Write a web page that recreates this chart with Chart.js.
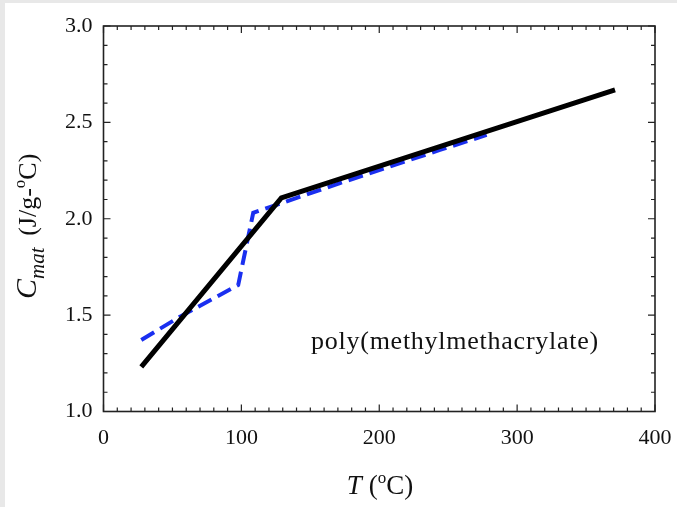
<!DOCTYPE html>
<html>
<head>
<meta charset="utf-8">
<script src="https://cdn.jsdelivr.net/npm/chart.js@4.4.0/dist/chart.umd.min.js"></script>
<style>
  html, body { margin: 0; padding: 0; background: #fff; }
  #wrap { position: relative; width: 677px; height: 507px; background: #fff; }
  #edgeTop { position: absolute; left: 0; top: 0; width: 677px; height: 3px; background: #e8e8e8; }
  #edgeLeft { position: absolute; left: 0; top: 0; width: 5px; height: 507px; background: #e8e8e8; }
</style>
</head>
<body>
<div id="wrap">
  <canvas id="cpChart" width="677" height="507"></canvas>
  <div id="edgeTop"></div>
  <div id="edgeLeft"></div>
</div>
<script>
// heat capacity of PMMA vs temperature
const fitT = [27.4, 129, 371];
const fitC = [1.232, 2.108, 2.668];
const measT = [27.4, 55.5, 97.7, 108.6, 171.5, 244, 277.9];
const measC = [1.371, 1.492, 1.656, 2.031, 2.185, 2.357, 2.435];
const xTicks = [0, 100, 200, 300, 400];
const yTicks = [1.0, 1.5, 2.0, 2.5, 3.0];
const materialLabel = 'poly(methylmethacrylate)';

const SERIF = '"Liberation Serif", "Times New Roman", serif';

function toPoints(xs, ys) {
  return xs.map((x, i) => ({ x: x, y: ys[i] }));
}

// inward ticks on all four sides + box
const frameTicks = {
  id: 'frameTicks',
  afterDraw(chart) {
    const { ctx, chartArea: a, scales: { x, y } } = chart;
    ctx.save();
    ctx.strokeStyle = '#222';
    ctx.lineWidth = 1.6;
    ctx.strokeRect(a.left, a.top, a.right - a.left, a.bottom - a.top);
    ctx.lineWidth = 1.2;
    ctx.beginPath();
    for (let v = 0; v <= 400; v += 10) {
      const px = x.getPixelForValue(v);
      const len = v % 100 === 0 ? 7 : 4;
      ctx.moveTo(px, a.bottom); ctx.lineTo(px, a.bottom - len);
      ctx.moveTo(px, a.top); ctx.lineTo(px, a.top + len);
    }
    for (let i = 0; i <= 20; i++) {
      const v = 1 + i * 0.1;
      const py = y.getPixelForValue(v);
      const len = i % 5 === 0 ? 7 : 4;
      ctx.moveTo(a.left, py); ctx.lineTo(a.left + len, py);
      ctx.moveTo(a.right, py); ctx.lineTo(a.right - len, py);
    }
    ctx.stroke();
    ctx.restore();
  }
};

// draws a list of text runs: [text, font, baseline shift]
function drawRuns(ctx, runs, x, y) {
  let cx = x;
  runs.forEach(r => {
    ctx.font = r[1];
    ctx.fillText(r[0], cx, y + r[2]);
    cx += ctx.measureText(r[0]).width;
  });
  return cx - x;
}

function runsWidth(ctx, runs) {
  let w = 0;
  runs.forEach(r => { ctx.font = r[1]; w += ctx.measureText(r[0]).width; });
  return w;
}

const titles = {
  id: 'titles',
  afterDraw(chart) {
    const { ctx, scales: { x, y } } = chart;
    ctx.save();
    ctx.fillStyle = '#111';
    ctx.textBaseline = 'alphabetic';
    ctx.textAlign = 'left';

    // x title
    const xRuns = [
      ['T', 'italic 27px ' + SERIF, 0],
      [' (', '27px ' + SERIF, 0],
      ['o', '17px ' + SERIF, -11],
      ['C)', '27px ' + SERIF, 0]
    ];
    const xw = runsWidth(ctx, xRuns);
    drawRuns(ctx, xRuns, 380 - xw / 2, 494);

    // y title, rotated
    const yRuns = [
      ['C', 'italic 30px ' + SERIF, 0],
      ['mat', 'italic 21px ' + SERIF, 8],
      ['\u2009 (J/g-', '26px ' + SERIF, 0],
      ['o', '17px ' + SERIF, -11],
      ['C)', '26px ' + SERIF, 0]
    ];
    ctx.translate(36, 299);
    ctx.rotate(-Math.PI / 2);
    drawRuns(ctx, yRuns, 0, 0);
    ctx.setTransform(1, 0, 0, 1, 0, 0);

    // material label inside the plot
    ctx.font = '26px ' + SERIF;
    ctx.letterSpacing = '0.75px';
    ctx.fillText(materialLabel, x.getPixelForValue(150.5), y.getPixelForValue(1.322));
    ctx.restore();
  }
};

new Chart(document.getElementById('cpChart'), {
  type: 'scatter',
  data: {
    datasets: [
      {
        label: 'fit',
        data: toPoints(fitT, fitC),
        showLine: true,
        borderColor: '#000',
        borderWidth: 5,
        pointRadius: 0,
        tension: 0
      },
      {
        label: 'measured',
        data: toPoints(measT, measC),
        showLine: true,
        borderColor: '#1a2ff0',
        borderWidth: 4,
        borderDash: [15, 7],
        pointRadius: 0,
        tension: 0
      }
    ]
  },
  options: {
    responsive: false,
    animation: false,
    layout: { padding: { left: 0, right: 22, top: 26, bottom: 0 } },
    plugins: {
      legend: { display: false },
      tooltip: { enabled: false }
    },
    scales: {
      x: {
        type: 'linear',
        min: 0,
        max: 400,
        afterFit: s => { s.height = 95.5; s.paddingLeft = 0; s.paddingRight = 0; },
        afterBuildTicks: s => { s.ticks = xTicks.map(v => ({ value: v })); },
        grid: { display: false, drawTicks: false },
        border: { display: false },
        ticks: {
          color: '#111',
          padding: 14,
          maxRotation: 0,
          font: { family: SERIF, size: 22 }
        }
      },
      y: {
        type: 'linear',
        min: 1,
        max: 3,
        afterFit: s => { s.width = 103.5; s.paddingTop = 0; s.paddingBottom = 0; },
        afterBuildTicks: s => { s.ticks = yTicks.map(v => ({ value: v })); },
        grid: { display: false, drawTicks: false },
        border: { display: false },
        ticks: {
          color: '#111',
          padding: 11,
          font: { family: SERIF, size: 22 },
          callback: v => v.toFixed(1)
        }
      }
    }
  },
  plugins: [frameTicks, titles]
});
</script>
</body>
</html>
